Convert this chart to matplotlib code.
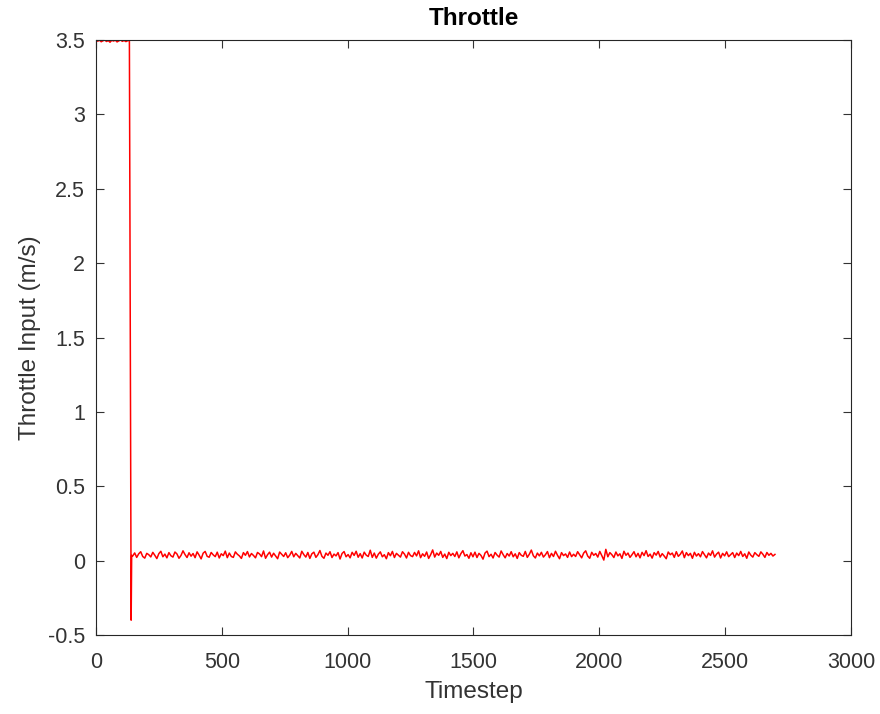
import numpy as np
import matplotlib
matplotlib.use('Agg')
import matplotlib.pyplot as plt

# --- data ---
# saturated start, timesteps 0..133
t_start = np.arange(0, 140, 7)
v_start = [3.497, 3.492, 3.499, 3.488, 3.495, 3.500, 3.490, 3.496, 3.485, 3.498,
           3.493, 3.499, 3.487, 3.494, 3.500, 3.491, 3.497, 3.489, 3.495, 3.498]

# drop and undershoot
t_drop = [140, 142]
v_drop = [-0.40, 0.035]

# noisy steady part, every 8 timesteps from 146 to 2698
t_noise = np.arange(146, 2700, 8)
v_noise = [
    0.031, 0.052, 0.022, 0.046, 0.060, 0.028, 0.017, 0.049, 0.040, 0.025,
    0.056, 0.036, 0.014, 0.047, 0.063, 0.026, 0.044, 0.019, 0.054, 0.033,
    0.024, 0.058, 0.045, 0.016, 0.035, 0.066, 0.041, 0.021, 0.053, 0.030,
    0.048, 0.020, 0.059, 0.037, 0.012, 0.050, 0.062, 0.029, 0.023, 0.055,
    0.039, 0.027, 0.057, 0.018, 0.046, 0.034, 0.064, 0.020, 0.051, 0.028,
    0.022, 0.059, 0.043, 0.032, 0.015, 0.054, 0.036, 0.061, 0.025, 0.048,
    0.035, 0.019, 0.055, 0.045, 0.027, 0.065, 0.016, 0.040, 0.057, 0.024,
    0.050, 0.031, 0.013, 0.058, 0.043, 0.028, 0.053, 0.020, 0.037, 0.062,
    0.026, 0.049, 0.034, 0.018, 0.063, 0.041, 0.024, 0.055, 0.015, 0.046,
    0.057, 0.022, 0.040, 0.068, 0.029, 0.016, 0.051, 0.036, 0.060, 0.021,
    0.044, 0.032, 0.054, 0.011, 0.048, 0.061, 0.026, 0.041, 0.019, 0.056,
    0.035, 0.063, 0.023, 0.047, 0.018, 0.057, 0.037, 0.028, 0.070, 0.022,
    0.051, 0.017, 0.043, 0.059, 0.026, 0.040, 0.013, 0.054, 0.033, 0.062,
    0.021, 0.049, 0.036, 0.024, 0.060, 0.044, 0.018, 0.056, 0.034, 0.027,
    0.055, 0.032, 0.066, 0.020, 0.046, 0.029, 0.058, 0.015, 0.040, 0.072,
    0.024, 0.051, 0.036, 0.062, 0.022, 0.044, 0.014, 0.056, 0.034, 0.049,
    0.028, 0.059, 0.019, 0.047, 0.067, 0.031, 0.041, 0.016, 0.053, 0.026,
    0.057, 0.021, 0.049, 0.035, 0.010, 0.051, 0.064, 0.027, 0.043, 0.018,
    0.055, 0.037, 0.024, 0.065, 0.040, 0.019, 0.048, 0.031, 0.060, 0.026,
    0.046, 0.015, 0.054, 0.036, 0.029, 0.062, 0.022, 0.043, 0.071, 0.033,
    0.018, 0.051, 0.032, 0.056, 0.024, 0.040, 0.061, 0.020, 0.049, 0.028,
    0.063, 0.036, 0.013, 0.054, 0.034, 0.045, 0.022, 0.058, 0.027, 0.043,
    0.028, 0.060, 0.040, 0.019, 0.051, 0.066, 0.031, 0.016, 0.056, 0.036,
    0.048, 0.024, 0.062, 0.034, 0.004, 0.076, 0.026, 0.054, 0.040, 0.021,
    0.058, 0.032, 0.046, 0.015, 0.063, 0.036, 0.051, 0.022, 0.040, 0.060,
    0.026, 0.049, 0.019, 0.056, 0.034, 0.067, 0.028, 0.044, 0.017, 0.054,
    0.037, 0.062, 0.024, 0.047, 0.031, 0.013, 0.058, 0.040, 0.051, 0.022,
    0.060, 0.029, 0.043, 0.065, 0.020, 0.054, 0.034, 0.049, 0.016, 0.056,
    0.031, 0.047, 0.026, 0.061, 0.040, 0.019, 0.051, 0.035, 0.066, 0.024,
    0.044, 0.057, 0.018, 0.049, 0.032, 0.059, 0.027, 0.040, 0.054, 0.021,
    0.051, 0.034, 0.062, 0.028, 0.046, 0.016, 0.058, 0.037, 0.024, 0.054,
    0.040, 0.029, 0.059, 0.043, 0.022, 0.055, 0.036, 0.049, 0.031, 0.042,
]

x_ticks = [0, 500, 1000, 1500, 2000, 2500, 3000]
y_ticks = [-0.5, 0, 0.5, 1, 1.5, 2, 2.5, 3, 3.5]
y_ticklabels = ['-0.5', '0', '0.5', '1', '1.5', '2', '2.5', '3', '3.5']

plt.rcParams['font.family'] = ['Liberation Sans', 'DejaVu Sans']
text_col = '#333333'

t = np.concatenate([t_start, t_drop, t_noise])
v = np.concatenate([v_start, v_drop, v_noise])

fig = plt.figure(figsize=(8.8, 7.14), dpi=100)
ax = fig.add_axes([0.109, 0.1106, 0.858, 0.8334])

ax.plot(t, v, color='#ff0000', linewidth=1.1)

ax.set_xlim(0, 3000)
ax.set_ylim(-0.5, 3.5)
ax.set_xticks(x_ticks)
ax.set_yticks(y_ticks)
ax.set_yticklabels(y_ticklabels)

ax.tick_params(direction='in', top=True, right=True, length=6, width=0.8,
               colors=text_col, labelsize=15.5)
ax.tick_params(axis='x', pad=12)
ax.tick_params(axis='y', pad=8)
for s in ax.spines.values():
    s.set_color('#262626')
    s.set_linewidth(0.8)

ax.set_xlabel('Timestep', fontsize=17.5, color=text_col, labelpad=6)
ax.set_ylabel('Throttle Input (m/s)', fontsize=17.5, color=text_col, labelpad=5)
ax.set_title('Throttle', fontsize=17.5, fontweight='bold', color='black', pad=11)

fig.savefig('out.png', dpi=100)
